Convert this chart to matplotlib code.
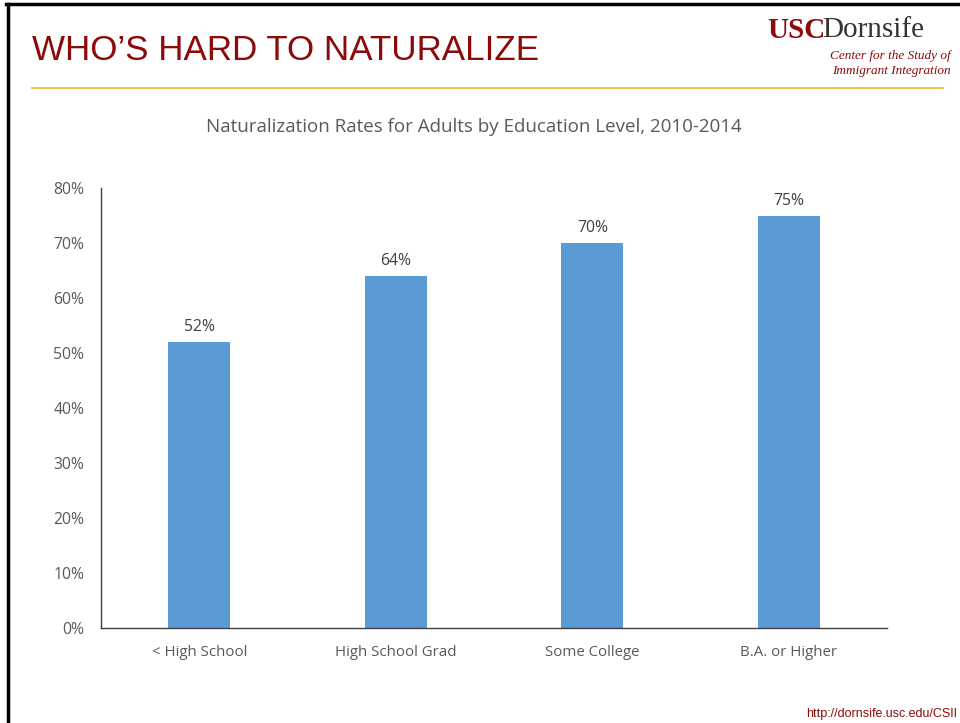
import matplotlib
matplotlib.use("Agg")
import matplotlib.pyplot as plt
from matplotlib.lines import Line2D

categories = ["< High School", "High School Grad", "Some College", "B.A. or Higher"]
rates = [52, 64, 70, 75]
yticks = [0, 10, 20, 30, 40, 50, 60, 70, 80]
ytick_labels = [f"{t}%" for t in yticks]
value_labels = [f"{v}%" for v in rates]

W, H = 960, 723
fig = plt.figure(figsize=(W / 100, H / 100), dpi=100)
fig.patch.set_facecolor("white")

def fx(px):
    return px / W

def fy(py):
    return 1 - py / H

# slide border (left and top)
fig.add_artist(Line2D([fx(7.5), fx(7.5)], [fy(4), fy(723)], color="black", lw=2.5, transform=fig.transFigure))
fig.add_artist(Line2D([fx(6), fx(960)], [fy(4), fy(4)], color="black", lw=2.5, transform=fig.transFigure))

# slide title
fig.text(fx(32), fy(50), "WHO\u2019S HARD TO NATURALIZE", color="#8B0A0A",
         fontsize=25.2, family="Liberation Sans", ha="left", va="center")
# gold rule
fig.add_artist(Line2D([fx(32), fx(943)], [fy(88), fy(88)], color="#F5C342", lw=1.5, transform=fig.transFigure))

# logo
fig.text(fx(767), fy(30), "USC", color="#8B0A0A", fontsize=21, family="Liberation Serif",
         fontweight="bold", ha="left", va="center")
fig.text(fx(822), fy(30), "Dornsife", color="#333333", fontsize=21, family="Liberation Serif",
         ha="left", va="center")
fig.text(fx(951), fy(56), "Center for the Study of", color="#8B0A0A", fontsize=9.5,
         family="Liberation Serif", style="italic", ha="right", va="center")
fig.text(fx(951), fy(71), "Immigrant Integration", color="#8B0A0A", fontsize=9.5,
         family="Liberation Serif", style="italic", ha="right", va="center")

# footer
fig.text(fx(957), fy(714), "http://dornsife.usc.edu/CSII", color="#8B0A0A", fontsize=9,
         family="Liberation Sans", ha="right", va="center")

# chart title
fig.text(fx(474), fy(127), "Naturalization Rates for Adults by Education Level, 2010-2014",
         color="#595959", fontsize=13.5, family="Open Sans", ha="center", va="center")

ax = fig.add_axes([fx(101), fy(628), fx(887) - fx(101), fy(188) - fy(628)])
x = range(len(categories))
ax.bar(x, rates, width=0.315, color="#5B9BD5", zorder=2)
for xi, v, lab in zip(x, rates, value_labels):
    ax.text(xi, v + 1.2, lab, ha="center", va="bottom", color="#404040",
            fontsize=11.3, family="Open Sans")

ax.set_xlim(-0.5, len(categories) - 0.5)
ax.set_ylim(0, 80)
ax.set_yticks(yticks)
ax.set_yticklabels(ytick_labels)
ax.set_xticks(list(x))
ax.set_xticklabels(categories)
for lab in ax.get_yticklabels():
    lab.set_family("Open Sans")
    lab.set_fontsize(11.3)
    lab.set_color("#595959")
for lab in ax.get_xticklabels():
    lab.set_family("Open Sans")
    lab.set_fontsize(10.8)
    lab.set_color("#595959")
ax.tick_params(axis="both", length=0)
ax.tick_params(axis="y", pad=12)
ax.tick_params(axis="x", pad=12)
ax.spines["top"].set_visible(False)
ax.spines["right"].set_visible(False)
ax.spines["left"].set_color("#404040")
ax.spines["bottom"].set_color("#404040")
ax.spines["left"].set_linewidth(1)
ax.spines["bottom"].set_linewidth(1)

fig.savefig("out.png", dpi=100, facecolor="white")
